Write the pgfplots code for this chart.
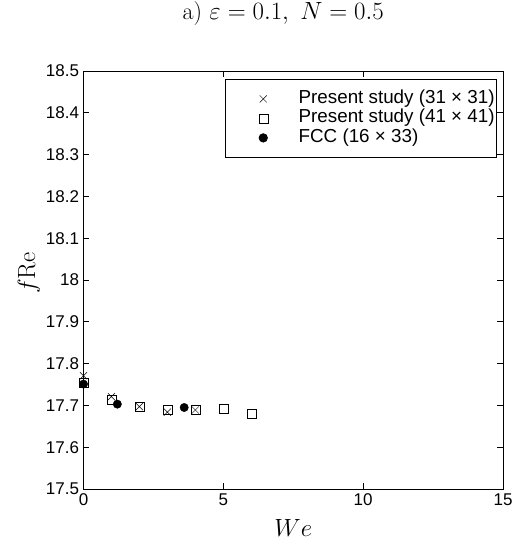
\documentclass[border=0pt]{standalone}
\usepackage[no-math]{fontspec}
\setsansfont{Liberation Sans}
\usepackage{pgfplots}
\pgfplotsset{compat=1.18}

\begin{document}
\begin{tikzpicture}
  \begin{axis}[
      at={(0pt,0pt)}, anchor=south west,
      scale only axis, width=419.5pt, height=418pt,
      xmin=0, xmax=15, ymin=17.5, ymax=18.5,
      xtick={0,5,10,15},
      ytick={17.5,17.6,...,18.5},
      yticklabels={17.5,17.6,17.7,17.8,17.9,18,18.1,18.2,18.3,18.4,18.5},
      tick align=inside, major tick length=6pt,
      tick style={black, line width=0.6pt},
      axis line style={line width=0.9pt},
      /pgf/number format/assume math mode=true,
      ticklabel style={font=\sffamily\fontsize{17}{19}\selectfont},
      xticklabel style={yshift=-1pt},
      yticklabel style={xshift=-1pt},
      title={a) $\varepsilon=0.1,\ N=0.5$},
      title style={font=\fontsize{24}{26}\selectfont, at={(0.5,1)}, anchor=center, yshift=51pt, xshift=-10pt},
      xlabel={$We$},
      ylabel={$f\mathrm{Re}$},
      label style={font=\fontsize{26}{28}\selectfont},
      xlabel style={at={(0.5,0)}, anchor=center, yshift=-39pt},
      ylabel style={at={(0,0.5)}, anchor=center, xshift=7pt, yshift=54.5pt},
      legend style={at={(1,1)}, anchor=north east, xshift=-6pt, yshift=-8pt,
        font=\sffamily\fontsize{18.8}{20}\selectfont, draw=black, line width=0.8pt,
        nodes={inner ysep=0pt, text height=13pt, text depth=4pt},
        row sep=2.5pt, inner xsep=0pt, inner ysep=11pt},
      legend cell align=left,
      legend image code/.code={%
        \node[draw=none, fill=none, inner sep=0pt, minimum width=71pt, minimum height=2pt, anchor=west] at (-38pt,0pt) {};
        \draw[#1] plot[only marks] coordinates {(0pt,0pt)};},
    ]
    \addplot[only marks, mark=x, mark size=5pt, black, line width=0.5pt]
      coordinates {(0,17.771) (1,17.721) (2,17.697) (3,17.684) (4,17.689)};
    \addlegendentry{Present study (31 × 31)}
    \addplot[only marks, mark=square, mark size=4.5pt, black, line width=0.5pt]
      coordinates {(0,17.754) (1,17.713) (2,17.697) (3,17.689) (4,17.689) (5,17.691) (6,17.681)};
    \addlegendentry{Present study (41 × 41)}
    \addplot[only marks, mark=*, mark size=4.2pt, black]
      coordinates {(0,17.751) (1.21,17.703) (3.6,17.695)};
    \addlegendentry{FCC (16 × 33)}
  \end{axis}
  \pgfresetboundingbox
  \path[use as bounding box] (-83.5pt,-56pt) rectangle (431.5pt,489pt);
\end{tikzpicture}
\end{document}
